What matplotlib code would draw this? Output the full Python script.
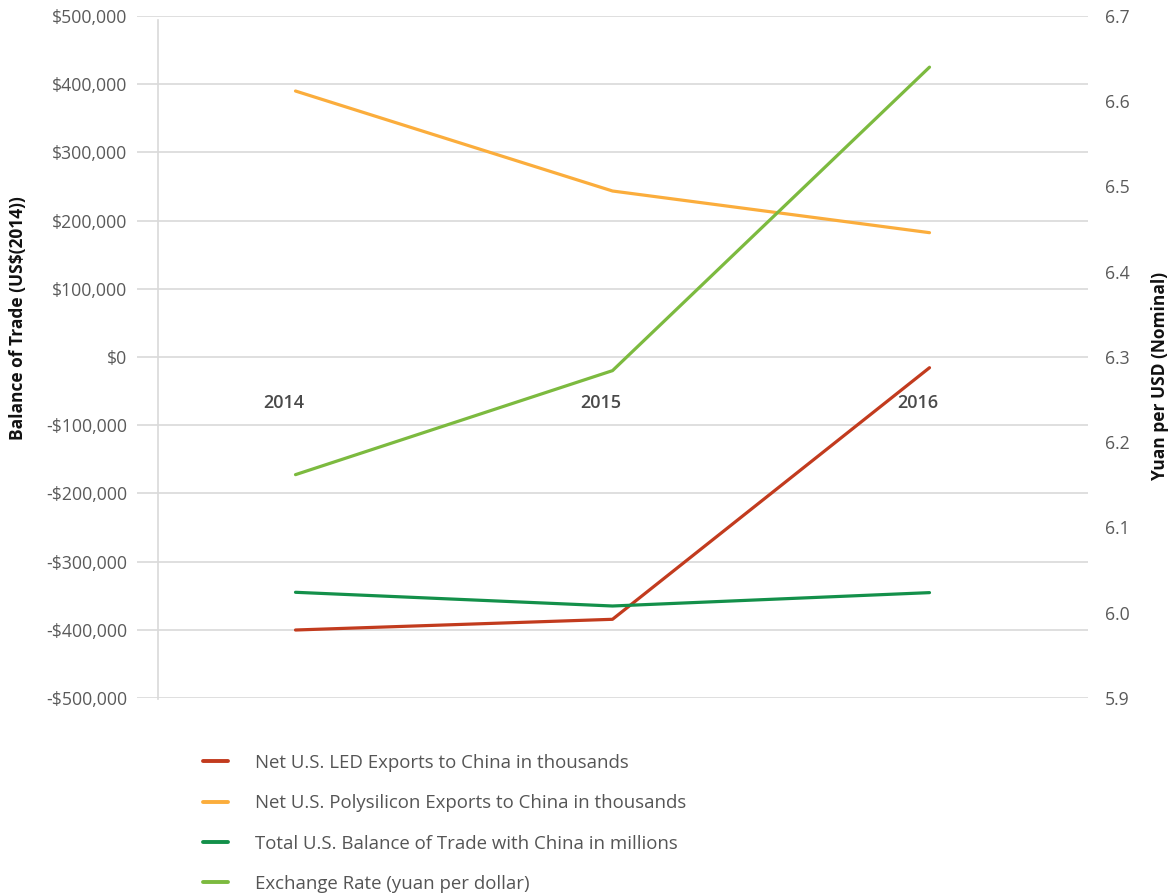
import matplotlib
matplotlib.use("Agg")
import matplotlib.pyplot as plt
from matplotlib.ticker import FuncFormatter, MultipleLocator
import matplotlib.transforms as mtransforms

years = ["2014", "2015", "2016"]
led_exports = [-400300, -384600, -15700]
polysilicon_exports = [390000, 243400, 182300]
total_balance = [-345000, -365100, -345500]
exchange_rate = [6.162, 6.284, 6.640]

series_labels = [
    "Net U.S. LED Exports to China in thousands",
    "Net U.S. Polysilicon Exports to China in thousands",
    "Total U.S. Balance of Trade with China in millions",
    "Exchange Rate (yuan per dollar)",
]
colors = ["#C23B1E", "#FBAD3C", "#13904A", "#7CBA3F"]

plt.rcParams["font.family"] = ["Open Sans", "DejaVu Sans"]

fig = plt.figure(figsize=(11.71, 8.96), dpi=100)
ax = fig.add_axes([137 / 1171, 198 / 896, (1088 - 137) / 1171, (698 - 16) / 896])
ax2 = ax.twinx()

x = list(range(len(years)))
lw = 2.3
l1, = ax.plot(x, led_exports, color=colors[0], lw=lw, solid_capstyle="round", zorder=3)
l2, = ax.plot(x, polysilicon_exports, color=colors[1], lw=lw, solid_capstyle="round", zorder=3)
l3, = ax.plot(x, total_balance, color=colors[2], lw=lw, solid_capstyle="round", zorder=3)
l4, = ax2.plot(x, exchange_rate, color=colors[3], lw=lw, solid_capstyle="round", zorder=3)

ax.set_xlim(-0.5, 2.5)
ax.set_ylim(-500000, 500000)
ax2.set_ylim(5.9, 6.7)
ax.yaxis.set_major_locator(MultipleLocator(100000))
ax2.yaxis.set_major_locator(MultipleLocator(0.1))

def money(v, pos):
    v = int(round(v))
    if v < 0:
        return "-${:,}".format(-v)
    return "${:,}".format(v)

ax.yaxis.set_major_formatter(FuncFormatter(money))
ax2.yaxis.set_major_formatter(FuncFormatter(lambda v, p: "{:.1f}".format(v)))

for a in (ax, ax2):
    for s in a.spines.values():
        s.set_visible(False)
    a.set_xticks([])

ax.grid(axis="y", color="#d9d9d9", lw=1.2, zorder=0)
ax.set_axisbelow(True)
ax.tick_params(axis="y", length=0, pad=7, labelsize=12.7, labelcolor="#5a5a5a")
ax2.tick_params(axis="y", length=0, pad=12, labelsize=12.7, labelcolor="#5a5a5a")

# vertical axis line inset from the gridline start
ax.axvline(-0.5 + 21 / 317, ymin=-0.002, ymax=0.994, color="#d9d9d9", lw=1.2, clip_on=False, zorder=1)

# year labels inside the plot
offset = mtransforms.offset_copy(ax.transData, fig=fig, x=-12, y=0, units="dots")
for xi, yr in zip(x, years):
    ax.text(xi, -67000, yr, transform=offset, ha="center", va="center",
            fontsize=13, fontweight="semibold", color="#4a4a4a")

fig.text(18 / 1171, 1 - 318 / 896, "Balance of Trade (US$(2014))", rotation=90,
         ha="center", va="center", fontsize=12.5, fontweight="bold", color="#111111")
fig.text(1160 / 1171, 1 - 376 / 896, "Yuan per USD (Nominal)", rotation=90,
         ha="center", va="center", fontsize=12.5, fontweight="bold", color="#111111")

leg = fig.legend([l1, l2, l3, l4], series_labels, loc="upper left",
                 bbox_to_anchor=(203 / 1171, 1 - 754 / 896), frameon=False,
                 fontsize=13.4, handlelength=1.35, handletextpad=1.45, labelspacing=1.2,
                 borderaxespad=0, borderpad=0)
for t in leg.get_texts():
    t.set_color("#555555")
for h in leg.get_lines():
    h.set_linewidth(2.8)

fig.savefig("out.png", dpi=100)
